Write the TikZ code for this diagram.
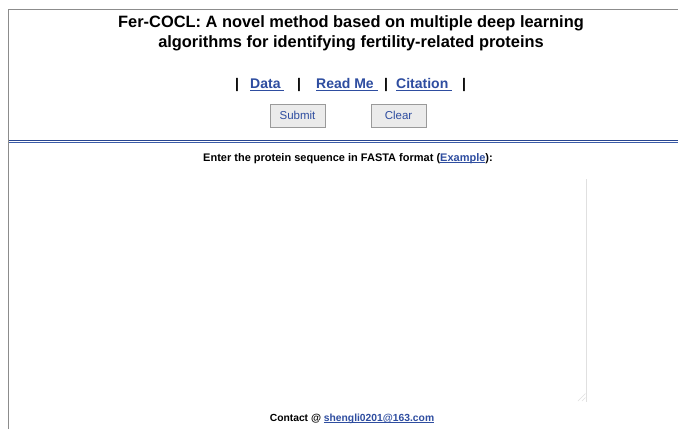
\documentclass[tikz,border=0pt]{standalone}
\usepackage{fontspec}
\setmainfont{Liberation Sans}
\definecolor{linkblue}{HTML}{2E4DA0}
\definecolor{framegray}{HTML}{8C8C8C}
\definecolor{rulea}{HTML}{28458F}
\definecolor{ruleb}{HTML}{3A5BA8}
\definecolor{btnfill}{HTML}{EBEBEB}
\definecolor{btnedge}{HTML}{9A9A9A}
\definecolor{areaedge}{HTML}{E0E0E0}
% link underline, scaled to the current font size
\newcommand\linkul[1]{\setbox0\hbox{#1}\rlap{\rule[-0.17em]{\wd0}{0.085em}}\box0}
\tikzset{
  txt/.style={inner sep=0pt, anchor=base},
  titletxt/.style={txt, font=\fontsize{16.4}{19}\selectfont\bfseries},
  navtxt/.style={txt, anchor=base west, font=\fontsize{14}{16}\selectfont\bfseries},
  navlink/.style={navtxt, text=linkblue},
  prompttxt/.style={txt, font=\fontsize{11}{13}\selectfont\bfseries},
  foottxt/.style={txt, font=\fontsize{10.3}{12}\selectfont\bfseries},
  button/.style={draw=btnedge, fill=btnfill, line width=1pt, minimum width=55pt,
    minimum height=23pt, inner sep=0pt, text=linkblue, font=\fontsize{11.5}{13}\selectfont},
  frameline/.style={draw=framegray, line width=1pt},
}
\begin{document}
\begin{tikzpicture}[x=1pt,y=-1pt]
\useasboundingbox (0,0) rectangle (678,429);
\fill[white] (0,0) rectangle (678,429);

% page frame: left edge and top edge
\draw[frameline] (8.5,429) -- (8.5,9.5) -- (678,9.5);

% heading
\node[titletxt] (title1) at (351,27) {Fer-COCL: A novel method based on multiple deep learning};
\node[titletxt] (title2) at (351,47) {algorithms for identifying fertility-related proteins};

% navigation bar
\node[navtxt]  (bar1) at (235,88.5) {|};
\node[navlink] (data) at (250,88.5) {\linkul{Data\ }};
\node[navtxt]  (bar2) at (297,88.5) {|};
\node[navlink] (readme) at (316,88.5) {\linkul{Read Me\ }};
\node[navtxt]  (bar3) at (384,88.5) {|};
\node[navlink] (citation) at (396,88.5) {\linkul{Citation\ }};
\node[navtxt]  (bar4) at (462,88.5) {|};

% form buttons
\node[button] (submit) at (297.5,115.5) {Submit};
\node[button] (clear) at (398.5,115.5) {Clear};

% double rule under the header
\draw[rulea, line width=1pt] (9,140) -- (678,140);
\draw[ruleb, line width=1pt] (9,142.2) -- (678,142.2);

% input prompt
\node[prompttxt] (prompt) at (348,161.5) {Enter the protein sequence in FASTA format (\textcolor{linkblue}{\linkul{Example}}):};

% text area right edge and resize grip
\draw[areaedge, line width=1pt] (586.5,179) -- (586.5,401.5);
\draw[areaedge, line width=0.6pt] (578,401) -- (585.5,393.5);
\draw[areaedge, line width=0.6pt] (582,401) -- (585.5,397.5);

% footer
\node[foottxt] (contact) at (352,421.5) {Contact @ \textcolor{linkblue}{\linkul{shengli0201@163.com}}};
\end{tikzpicture}
\end{document}
